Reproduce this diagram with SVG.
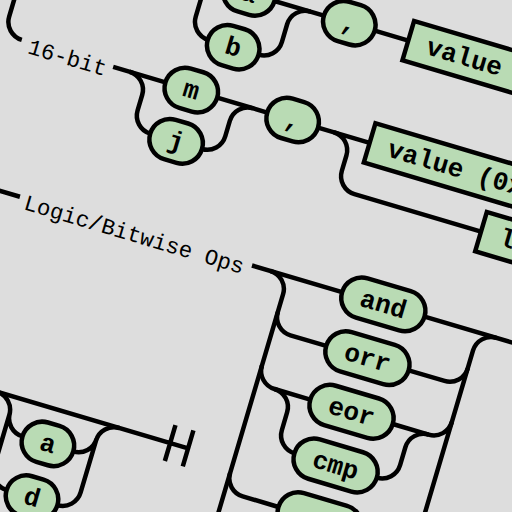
<svg xmlns="http://www.w3.org/2000/svg" width="512" height="512" viewBox="0 0 512 512">
<style>
.c{fill:none;stroke:#000;stroke-width:4.5}
.t rect{fill:#b9dbb4;stroke:#000;stroke-width:4.5}
.t text{font-family:"Liberation Mono",monospace;font-weight:bold;font-size:26px;fill:#000;text-anchor:middle}
.n text{text-anchor:start}
.cm{font-family:"Liberation Mono",monospace;font-size:22.4px;fill:#000;text-anchor:middle}
</style>
<rect width="512" height="512" fill="#dddddd"/>
<g transform="rotate(16.5)">
<g id="connectors" class="c">
<path d="M13.5 -140V13.3A18.7 18.7 0 0 0 32.2 32"/>
<path d="M13.5 -95.7A18.7 18.7 0 0 0 32.2 -77H210.5M263.5 -77H315M368 -77H403"/>
<path d="M173.7 -77A18.7 18.7 0 0 1 192.4 -58.3V-39.7A18.7 18.7 0 0 0 211.1 -21"/>
<path d="M263.5 -21A18.7 18.7 0 0 0 282.2 -39.7V-58.3A18.7 18.7 0 0 1 300.9 -77"/>
<path d="M127.5 32H182M236 32H288.2M341.2 32H395"/>
<path d="M144.6 32A18.7 18.7 0 0 1 163.3 50.7V66.8A18.7 18.7 0 0 0 182 85.5"/>
<path d="M236 85.5A18.7 18.7 0 0 0 254.7 66.8V50.7A18.7 18.7 0 0 1 273.4 32"/>
<path d="M357.6 32A18.7 18.7 0 0 1 376.3 50.7V66.8A18.7 18.7 0 0 0 395 85.5H527"/>
<path d="M-20 183H75M317 183H411M497 183H720"/>
<path d="M336.3 183A18.7 18.7 0 0 1 355 201.7V460"/>
<path d="M355 220.3A18.7 18.7 0 0 0 373.7 239H411M497 239H534.4A18.7 18.7 0 0 0 553.1 220.3"/>
<path d="M355 276.3A18.7 18.7 0 0 0 373.7 295H411M497 295H534.4A18.7 18.7 0 0 0 553.1 276.3"/>
<path d="M355 388.3A18.7 18.7 0 0 0 373.7 407H411M497 407H534.4A18.7 18.7 0 0 0 553.1 388.3"/>
<path d="M553.1 460V201.7A18.7 18.7 0 0 1 571.8 183"/>
<path d="M373.7 295A18.7 18.7 0 0 1 392.4 313.7V332.3A18.7 18.7 0 0 0 411.1 351"/>
<path d="M497 351A18.7 18.7 0 0 0 515.7 332.3V313.7A18.7 18.7 0 0 1 534.4 295"/>
<path d="M-20 376.5H307.7M289 357.8V395.2M307.7 357.8V395.2"/>
<path d="M108.1 376.5A18.7 18.7 0 0 1 126.8 395.2V449.3A18.7 18.7 0 0 0 145.5 468M126.8 393.3A18.7 18.7 0 0 0 145.5 412"/>
<path d="M198.5 412A18.7 18.7 0 0 0 217.2 393.3M198.5 468A18.7 18.7 0 0 0 217.2 449.3V395.2A18.7 18.7 0 0 1 235.9 376.5"/>
</g>
<text id="c16bit" class="cm" x="81" y="43.3">16-bit</text>
<text id="clogic" class="cm" x="195.3" y="194">Logic/Bitwise Ops</text>
<g id="n_a8" class="t"><rect x="210.5" y="-97.5" width="53" height="41" rx="20.5"/><text x="237" y="-69">a</text></g>
<g id="n_b" class="t"><rect x="210.5" y="-41.5" width="53" height="41" rx="20.5"/><text x="237" y="-13">b</text></g>
<g id="n_comma1" class="t"><rect x="315" y="-97.5" width="53" height="41" rx="20.5"/><text x="341.5" y="-69">,</text></g>
<g id="n_value1" class="t n"><rect x="403" y="-97.5" width="320" height="41"/><text x="422.5" y="-69">value</text></g>
<g id="n_m" class="t"><rect x="182" y="11.5" width="54" height="41" rx="20.5"/><text x="209" y="40">m</text></g>
<g id="n_j" class="t"><rect x="182" y="65" width="54" height="41" rx="20.5"/><text x="209" y="93.5">j</text></g>
<g id="n_comma2" class="t"><rect x="288.2" y="11.5" width="53" height="41" rx="20.5"/><text x="314.7" y="40">,</text></g>
<g id="n_value2" class="t n"><rect x="395" y="11.5" width="400" height="41"/><text x="414.5" y="40">value (0x</text></g>
<g id="n_l" class="t n"><rect x="527" y="65" width="200" height="41"/><text x="546.5" y="93.5">l</text></g>
<g id="n_and" class="t"><rect x="411" y="162.5" width="86" height="41" rx="20.5"/><text x="454" y="191">and</text></g>
<g id="n_orr" class="t"><rect x="411" y="218.5" width="86" height="41" rx="20.5"/><text x="454" y="247">orr</text></g>
<g id="n_eor" class="t"><rect x="411" y="274.5" width="86" height="41" rx="20.5"/><text x="454" y="303">eor</text></g>
<g id="n_cmp" class="t"><rect x="411" y="330.5" width="86" height="41" rx="20.5"/><text x="454" y="359">cmp</text></g>
<g id="n_5" class="t"><rect x="411" y="386.5" width="86" height="41" rx="20.5"/></g>
<g id="n_a" class="t"><rect x="145.5" y="391.5" width="53" height="41" rx="20.5"/><text x="172" y="420">a</text></g>
<g id="n_d" class="t"><rect x="145.5" y="447.5" width="53" height="41" rx="20.5"/><text x="172" y="476">d</text></g>
</g>
</svg>
